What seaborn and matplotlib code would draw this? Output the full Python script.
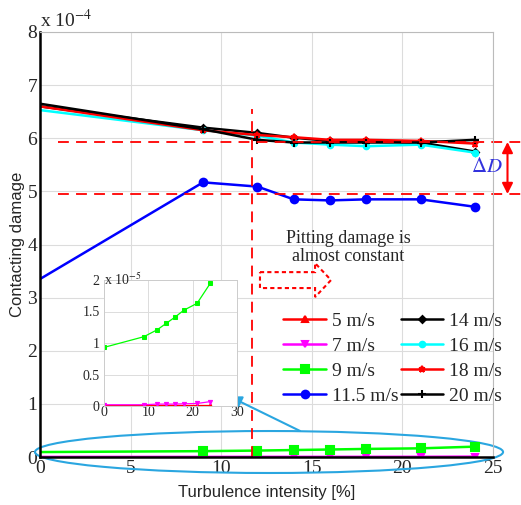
import numpy as np
import pandas as pd
import matplotlib
matplotlib.use("Agg")
import matplotlib.pyplot as plt
import seaborn as sns
from matplotlib.patches import Ellipse, Polygon

# Turbulence intensity [%]
turb = [0, 9, 12, 14, 16, 18, 21, 24]

# Contacting damage, x 1e-4
d_5 = [0.001, 0.001, 0.001, 0.001, 0.001, 0.001, 0.001, 0.001]
d_7 = [0.002, 0.002, 0.003, 0.003, 0.003, 0.0035, 0.004, 0.007]
d_9 = [0.093, 0.110, 0.121, 0.131, 0.141, 0.152, 0.163, 0.195]
d_11 = [3.35, 5.17, 5.09, 4.85, 4.83, 4.85, 4.85, 4.71]
d_14 = [6.60, 6.20, 6.10, 6.01, 5.95, 5.95, 5.92, 5.75]
d_16 = [6.53, 6.15, 6.05, 5.92, 5.88, 5.85, 5.88, 5.73]
d_18 = [6.60, 6.15, 6.06, 6.02, 5.97, 5.97, 5.95, 5.90]
d_20 = [6.65, 6.17, 5.97, 5.92, 5.92, 5.92, 5.92, 5.97]

labels = ["5 m/s", "7 m/s", "9 m/s", "11.5 m/s", "14 m/s", "16 m/s", "18 m/s", "20 m/s"]
series = [d_5, d_7, d_9, d_11, d_14, d_16, d_18, d_20]
colors = ["#ff0000", "#ff00ff", "#00ff00", "#0000ff", "#000000", "#00ffff", "#ff0000", "#000000"]
markers = ["^", "v", "s", "o", "D", "o", "*", "+"]
msizes = [6.5, 6.5, 7.5, 7, 4, 4.5, 7, 7]
leg_msizes = [5, 5, 5.5, 5.5, 3.5, 4, 5, 6]

sns.set_theme(style="white")
plt.rcParams["font.family"] = ["Liberation Serif", "DejaVu Serif"]
plt.rcParams["mathtext.fontset"] = "stix"

fig = plt.figure(figsize=(5.21, 5.05), dpi=100)
ax = fig.add_axes([40 / 521, 48 / 505, 453 / 521, 425 / 505])

for lab, vals, c, m, ms in zip(labels, series, colors, markers, msizes):
    sns.lineplot(x=turb, y=vals, ax=ax, color=c, marker=m, markersize=ms,
                 markeredgecolor=c, markeredgewidth=1.5, linewidth=1.8,
                 markevery=slice(1, None), label=lab)

ax.set_xlim(0, 25)
ax.set_ylim(0, 8)
ax.set_xticks(range(0, 26, 5))
ax.set_yticks(range(0, 9))
ax.tick_params(labelsize=14, length=0, pad=2)
ax.grid(True, color="#dcdcdc", linewidth=0.8)
for s in ["top", "right"]:
    ax.spines[s].set_color("#bbbbbb")
    ax.spines[s].set_linewidth(0.8)
for s in ["left", "bottom"]:
    ax.spines[s].set_color("black")
    ax.spines[s].set_linewidth(1.8)
ax.set_xlabel("Turbulence intensity [%]", family="Liberation Sans", fontsize=12, labelpad=6)
ax.set_ylabel("Contacting damage", family="Liberation Sans", fontsize=12, labelpad=2)
fig.text(40 / 521, 1 - 20 / 505, r"x 10$^{-4}$", fontsize=14, ha="left", va="center")

# legend, two columns without frame
h, l = ax.get_legend_handles_labels()
for hd, lms in zip(h, leg_msizes):
    hd.set_markersize(lms)
leg = ax.legend(h, l, ncol=2, loc="upper left", bbox_to_anchor=(0.52, 0.358),
                frameon=False, fontsize=14, handlelength=2.2, handletextpad=0.3,
                columnspacing=0.1, labelspacing=0.38, borderaxespad=0)

# annotations: dashed red reference lines
ax.plot([1.0, 26.6], [5.93, 5.93], ls=(0, (6, 4)), color="red", lw=1.3, clip_on=False)
ax.plot([1.0, 26.6], [4.95, 4.95], ls=(0, (6, 4)), color="red", lw=1.3, clip_on=False)
ax.plot([11.7, 11.7], [0, 6.55], ls=(0, (6, 4)), color="red", lw=1.3)
ax.annotate("", xy=(25.8, 4.95), xytext=(25.8, 5.93), annotation_clip=False,
            arrowprops=dict(arrowstyle="<|-|>", color="red", lw=1.5,
                            mutation_scale=16, shrinkA=0, shrinkB=0))
ax.text(24.65, 5.45, r"$\Delta D$", color="#3333dd", fontsize=15, ha="center", va="center")
ax.text(17.0, 3.95, "Pitting damage is\nalmost constant", fontsize=13,
        ha="center", va="center", linespacing=1.1)
arrow_pts = [(12.14, 3.48), (15.18, 3.48), (15.18, 3.65), (16.06, 3.33),
             (15.18, 3.01), (15.18, 3.18), (12.14, 3.18)]
ax.add_patch(Polygon(arrow_pts, closed=True, fill=False, ec="red", ls=(0, (2, 1.5)), lw=1.5))

# blue ellipse around the low curves and pointer to the inset
ax.add_patch(Ellipse((12.64, 0.094), 25.83, 0.79, fill=False, ec="#2aa6e0", lw=1.5, clip_on=False))
ax.annotate("", xy=(10.45, 1.14), xytext=(14.35, 0.49), annotation_clip=False,
            arrowprops=dict(arrowstyle="-|>", color="#2aa6e0", lw=1.5,
                            mutation_scale=18, shrinkA=0, shrinkB=0))

# inset with the three low curves, x 1e-5
ins = fig.add_axes([104 / 521, 99 / 505, 133 / 521, 126 / 505])
for vals, c, m in zip(series[:3], colors[:3], markers[:3]):
    sns.lineplot(x=turb, y=np.array(vals) * 10, ax=ins, color=c, marker=m,
                 markersize=3, markeredgecolor=c, linewidth=0.9)
ins.set_xlim(0, 30)
ins.set_ylim(0, 2)
ins.set_xticks([0, 10, 20, 30])
ins.set_yticks([0, 0.5, 1, 1.5, 2])
ins.set_yticklabels(["0", "0.5", "1", "1.5", "2"])
ins.tick_params(labelsize=10, length=0)
ins.tick_params(axis="x", pad=0)
ins.tick_params(axis="y", pad=3)
ins.grid(True, color="#dcdcdc", linewidth=0.7)
for s in ins.spines.values():
    s.set_color("#cccccc")
    s.set_linewidth(0.7)
ins.text(0.0, 1.0, r"x 10$^{-5}$", transform=ins.transAxes, fontsize=10, ha="left", va="center")

fig.savefig("out.png", dpi=100, facecolor="white")
